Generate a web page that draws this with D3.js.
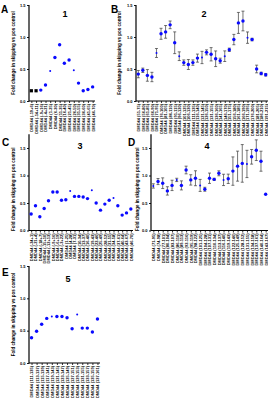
<!DOCTYPE html>
<html>
<head>
<meta charset="utf-8">
<script src="https://cdn.jsdelivr.net/npm/d3@7"></script>
<style>
  body { margin: 0; background: #fff; }
  svg { display: block; font-family: Arial, "Liberation Sans", sans-serif; }
</style>
</head>
<body>
<svg></svg>
<script>
const svg = d3.select("svg").attr("width", 268).attr("height", 400);

// panel 1
const labels1 = ["DMD44 (-19+6)","DMD44 (-14+11)","DMD44 (-9+16)","DMD44 (-4+21)","DMD44 (1-25)","DMD44 (6-30)","DMD44 (11-35)","DMD44 (16-40)","DMD44 (21-45)","DMD44 (26-50)","DMD44 (31-55)","DMD44 (36-60)","DMD44 (41-65)","DMD44 (46-70)"];
const values1 = [0.16,0.16,0.17,0.25,0.47,0.68,0.88,0.59,0.64,0.48,0.28,0.16,0.18,0.22];
const kind1 = ["ctrl","ctrl","aon","aon","ref","aon","aon","aon","aon","ref","aon","aon","aon","aon"];

// panel 2
const labels2 = ["DMD44 (51-75)","DMD44 (56-80)","DMD44 (61-85)","DMD44 (66-90)","DMD44 (71-95)","DMD44 (76-100)","DMD44 (81-105)","DMD44 (86-110)","DMD44 (91-115)","DMD44 (96-120)","DMD44 (101-125)","DMD44 (106-130)","DMD44 (111-135)","DMD44 (116-140)","DMD44 (121-145)","DMD44 (126-150)","DMD44 (131-155)","DMD44 (136-160)","DMD44 (141-165)","DMD44 (146-170)","DMD44 (151-175)","DMD44 (156-180)","DMD44 (161-185)","DMD44 (166-190)","DMD44 (171-195)","DMD44 (176-200)","DMD44 (181-205)","DMD44 (186-210)","DMD44 (191-215)"];
const values2 = [0.42,0.48,0.40,0.375,0.75,1.05,1.08,1.19,0.91,0.70,0.60,0.57,0.60,0.67,0.68,0.76,0.73,0.66,0.63,0.70,0.80,0.96,1.22,1.25,0.99,0.96,0.50,0.43,0.41];
const errors2 = [0.057,0.034,0.091,0.073,0.07,0.086,0.099,0.06,0.17,0.068,0.042,0.078,0.042,0.063,0.096,0.039,0.104,0.122,0.039,0.083,0.026,0.081,0.164,0.154,0.089,0.02,0.06,0.02,0.02];
const kind2 = ["aon","aon","aon","aon","ref","aon","aon","aon","aon","ref","aon","aon","aon","aon","ref","aon","aon","aon","aon","ref","aon","aon","aon","aon","ref","aon","aon","aon","aon"];

// panel 3
const labels3 = ["DMD44 (-24+1)","DMD44 (-21+4)","DMD44 (-18+7)","DMD44 (-15+10)","DMD44 (-12+13)","DMD44 (-9+16)","DMD44 (-6+19)","DMD44 (-3+22)","DMD44 (1-25)","DMD44 (4-28)","DMD44 (7-31)","DMD44 (10-34)","DMD44 (13-37)","DMD44 (16-40)","DMD44 (19-43)","DMD44 (22-46)","DMD44 (25-49)","DMD44 (28-52)","DMD44 (31-55)","DMD44 (34-58)","DMD44 (37-61)","DMD44 (40-64)","DMD44 (43-67)","DMD44 (46-70)"];
const values3 = [0.30,0.45,0.25,0.40,0.54,0.70,0.70,0.55,0.56,0.72,0.62,0.62,0.61,0.58,0.73,0.50,0.37,0.48,0.55,0.59,0.45,0.28,0.32,0.39];
const kind3 = ["aon","aon","aon","aon","aon","aon","aon","aon","aon","ref","aon","aon","aon","aon","ref","aon","aon","aon","aon","ref","aon","aon","aon","aon"];

// panel 4
const labels4 = ["DMD44 (71-95)","DMD44 (74-98)","DMD44 (77-101)","DMD44 (80-104)","DMD44 (83-107)","DMD44 (86-110)","DMD44 (89-113)","DMD44 (92-116)","DMD44 (95-119)","DMD44 (98-122)","DMD44 (101-125)","DMD44 (104-128)","DMD44 (107-131)","DMD44 (110-134)","DMD44 (113-137)","DMD44 (116-140)","DMD44 (119-143)","DMD44 (122-146)","DMD44 (125-149)","DMD44 (128-152)","DMD44 (131-155)","DMD44 (134-158)","DMD44 (137-161)","DMD44 (140-164)","DMD44 (143-167)"];
const values4 = [0.81,0.89,0.86,0.72,0.82,0.92,0.82,1.10,0.92,0.95,0.82,0.75,0.95,0.93,1.04,0.92,0.94,1.08,1.17,1.22,1.21,1.34,1.46,1.26,0.66];
const errors4 = [0.039,0.055,0.097,0.076,0.094,0.03,0.082,0.07,0.094,0.136,0.109,0.036,0.094,0.02,0.045,0.103,0.085,0.258,0.273,0.342,0.248,0.133,0.188,0.182,0];
const kind4 = ["ref","aon","aon","aon","aon","ref","aon","aon","aon","aon","ref","aon","aon","aon","aon","ref","aon","aon","aon","aon","ref","aon","aon","aon","aon"];

// panel 5
const labels5 = ["DMD44 (111-135)","DMD44 (113-137)","DMD44 (115-139)","DMD44 (117-141)","DMD44 (119-143)","DMD44 (121-145)","DMD44 (123-147)","DMD44 (125-149)","DMD44 (127-151)","DMD44 (129-153)","DMD44 (131-155)","DMD44 (133-157)","DMD44 (135-159)","DMD44 (137-161)"];
const values5 = [0.39,0.49,0.60,0.69,0.72,0.72,0.72,0.70,0.53,0.75,0.54,0.54,0.48,0.68];
const kind5 = ["aon","aon","aon","aon","ref","aon","aon","aon","aon","ref","aon","aon","aon","aon"];

const yTicks = [0, 0.5, 1.0, 1.5];
const yTitle = "Fold change in skipping vs pos control";

const panels = [
  { letter: "A", title: "1", labels: labels1, values: values1, errors: null, kind: kind1,
    x0: 29, x1: 95, y0: 101, y15: 5, ymax: 1.5, lx: 1, ly: 13, tx: 65, ty: 17, ytx: 15 },
  { letter: "B", title: "2", labels: labels2, values: values2, errors: errors2, kind: kind2,
    x0: 136, x1: 268, y0: 101, y15: 5, ymax: 1.5, lx: 111, ly: 13, tx: 204, ty: 17, ytx: 121 },
  { letter: "C", title: "3", labels: labels3, values: values3, errors: null, kind: kind3,
    x0: 29, x1: 133, y0: 230.5, y15: 148, ymax: 1.75, lx: 2, ly: 146, tx: 80, ty: 149, ytx: 15 },
  { letter: "D", title: "4", labels: labels4, values: values4, errors: errors4, kind: kind4,
    x0: 151, x1: 268, y0: 230.5, y15: 148, ymax: 1.75, lx: 128, ly: 146, tx: 207, ty: 149, ytx: 139 },
  { letter: "E", title: "5", labels: labels5, values: values5, errors: null, kind: kind5,
    x0: 29, x1: 100, y0: 363, y15: 266, ymax: 1.5, lx: 2, ly: 276, tx: 68, ty: 282, ytx: 15 }
];

panels.forEach(p => {
  const g = svg.append("g");
  const x = d3.scalePoint().domain(p.labels).range([p.x0, p.x1]).padding(0.5);
  const y = d3.scaleLinear().domain([0, 1.5]).range([p.y0, p.y15]);

  // y axis
  const yAxis = g.append("g").attr("transform", `translate(${p.x0},0)`)
    .call(d3.axisLeft(y).tickValues(yTicks).tickFormat(d3.format(".1f")).tickSize(2).tickPadding(1.5));
  yAxis.select(".domain").remove();
  yAxis.append("line").attr("x1", 0).attr("x2", 0)
    .attr("y1", y(0) + 0.5).attr("y2", y(p.ymax)).attr("stroke", "#000").attr("stroke-width", 1.2);
  yAxis.selectAll(".tick line").attr("stroke-width", 0.9);
  yAxis.selectAll(".tick text").attr("font-size", 4).attr("font-weight", "bold").attr("fill", "#000");

  // x axis
  const xAxis = g.append("g").attr("transform", `translate(0,${p.y0})`)
    .call(d3.axisBottom(x).tickSize(2).tickSizeOuter(0));
  xAxis.select(".domain").attr("d", `M${p.x0},0H${p.x1}`).attr("stroke-width", 1.2);
  xAxis.selectAll(".tick line").attr("stroke-width", 0.8);
  xAxis.selectAll(".tick text")
    .attr("font-size", 4).attr("font-weight", "bold").attr("fill", "#000")
    .attr("transform", "rotate(-90)")
    .attr("text-anchor", "end").attr("x", -3).attr("y", 0).attr("dy", "0.35em");

  // y title
  g.append("text")
    .attr("transform", `translate(${p.ytx},${(y(0) + y(1.5)) / 2}) rotate(-90)`)
    .attr("text-anchor", "middle").attr("font-size", 4.5).attr("font-weight", "bold")
    .text(yTitle);

  // letter + title
  g.append("text").attr("x", p.lx).attr("y", p.ly).attr("font-size", 10).attr("font-weight", "bold").text(p.letter);
  g.append("text").attr("x", p.tx).attr("y", p.ty).attr("text-anchor", "middle")
    .attr("font-size", 9).attr("font-weight", "bold").text(p.title);

  const data = p.labels.map((l, i) => ({ l, v: p.values[i], e: p.errors ? p.errors[i] : 0, k: p.kind[i] }));

  // error bars
  if (p.errors) {
    const eb = g.append("g").attr("stroke", "#3a3a3a").attr("stroke-width", 0.7);
    data.filter(d => d.e > 0).forEach(d => {
      const cx = x(d.l);
      eb.append("line").attr("x1", cx).attr("x2", cx).attr("y1", y(d.v - d.e)).attr("y2", y(d.v + d.e));
      eb.append("line").attr("x1", cx - 1.5).attr("x2", cx + 1.5).attr("y1", y(d.v - d.e)).attr("y2", y(d.v - d.e));
      eb.append("line").attr("x1", cx - 1.5).attr("x2", cx + 1.5).attr("y1", y(d.v + d.e)).attr("y2", y(d.v + d.e));
    });
  }

  // markers
  g.selectAll("rect.ctrl").data(data.filter(d => d.k === "ctrl")).join("rect")
    .attr("x", d => x(d.l) - 1.6).attr("y", d => y(d.v) - 1.6)
    .attr("width", 3.2).attr("height", 3.2).attr("fill", "#000");
  g.selectAll("circle.pt").data(data.filter(d => d.k !== "ctrl")).join("circle")
    .attr("cx", d => x(d.l)).attr("cy", d => y(d.v))
    .attr("r", d => d.k === "ref" ? 1.0 : 1.7)
    .attr("fill", "#0a0aff");
});
</script>
</body>
</html>
